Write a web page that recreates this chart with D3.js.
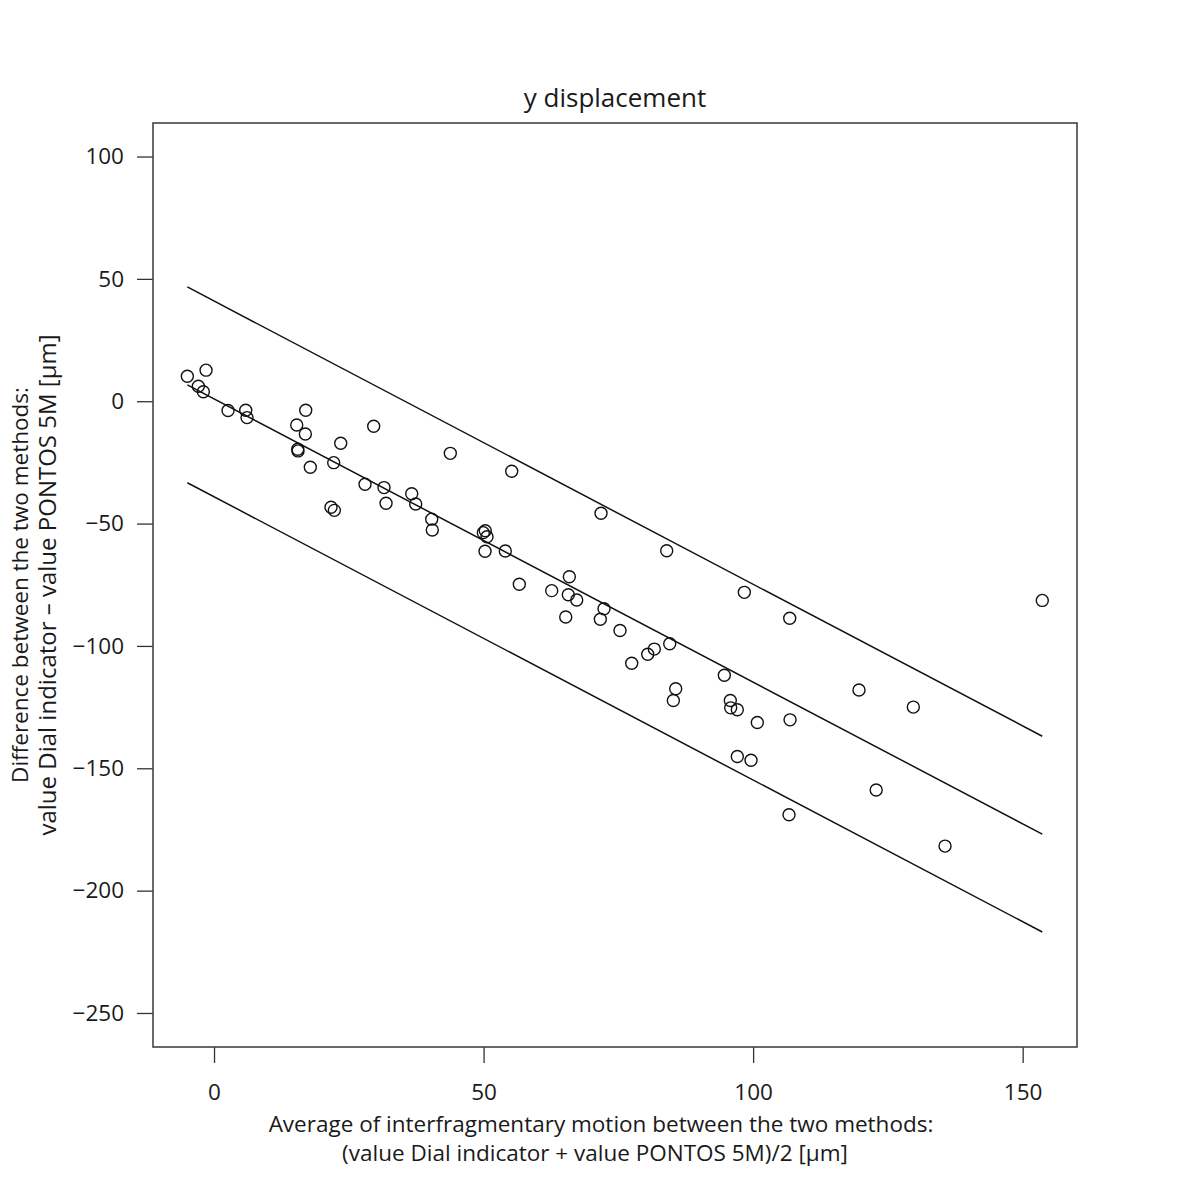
<!DOCTYPE html>
<html>
<head>
<meta charset="utf-8">
<script src="https://cdn.jsdelivr.net/npm/d3@7"></script>
<style>
  body { margin: 0; background: #fff; }
  text { font-family: "Open Sans", sans-serif; fill: #1a1a1a; }
</style>
</head>
<body>
<script>
// Bland-Altman style plot, y displacement

// mean of the two methods (x)
var avgVals = [-4.95, -1.48, -2.91, -1.98, 2.60, 5.88, 6.12, 15.34, 17.01, 16.94,
  15.53, 15.58, 17.86, 23.50, 29.62, 22.20, 28.01, 31.53, 31.91, 21.70,
  22.32, 36.67, 37.41, 40.38, 40.49, 43.83, 55.22, 49.95, 50.32, 50.64,
  50.27, 54.03, 56.63, 62.64, 65.91, 65.72, 67.28, 65.24, 71.79, 72.34,
  71.66, 75.31, 77.48, 83.97, 80.45, 81.67, 84.53, 85.64, 85.20, 94.66,
  98.37, 95.77, 95.84, 97.07, 100.78, 97.07, 99.61, 106.79, 106.85, 106.66,
  119.64, 122.83, 129.72, 135.60, 153.64];

// difference between the two methods (y)
var diffVals = [10.2, 12.7, 6.1, 3.9, -3.8, -3.7, -6.7, -9.7, -3.7, -13.4,
  -19.6, -20.3, -27.0, -17.2, -10.2, -25.1, -33.9, -35.3, -41.7, -43.3,
  -44.6, -37.8, -42.0, -48.2, -52.6, -21.3, -28.6, -53.7, -52.9, -55.4,
  -61.3, -61.2, -74.8, -77.4, -71.7, -79.1, -81.2, -88.2, -45.8, -84.8,
  -89.1, -93.7, -107.1, -61.1, -103.4, -101.3, -99.1, -117.5, -122.3, -112.0,
  -78.1, -122.3, -125.3, -126.1, -131.3, -145.2, -146.7, -88.7, -130.2, -169.0,
  -118.0, -158.9, -125.0, -181.8, -81.4];

// regression line and limits of agreement (endpoints)
var lineX = [-4.95, 153.64];
var meanLine = [6.7, -176.9];
var upperLine = [46.7, -136.9];
var lowerLine = [-33.3, -216.9];

var xTicks = [0, 50, 100, 150];
var yTicks = [100, 50, 0, -50, -100, -150, -200, -250];

var titleText = "y displacement";
var xLabel = ["Average of interfragmentary motion between the two methods:",
              "(value Dial indicator + value PONTOS 5M)/2 [\u00b5m]"];
var yLabel = ["Difference between the two methods:",
              "value Dial indicator \u2013 value PONTOS 5M [\u00b5m]"];

var margin = {left: 153, top: 123, right: 123, bottom: 153};
var width = 1200 - margin.left - margin.right,
    height = 1200 - margin.top - margin.bottom;

var svg = d3.select("body").append("svg")
    .attr("width", 1200)
    .attr("height", 1200);

var g = svg.append("g")
    .attr("transform", "translate(" + margin.left + "," + margin.top + ")");

var x = d3.scaleLinear().domain([-11.32, 160.08]).range([0, width]);
var y = d3.scaleLinear().domain([-263.9, 113.7]).range([height, 0]);

// axes
var xAxis = g.append("g")
    .attr("transform", "translate(0," + height + ")")
    .call(d3.axisBottom(x).tickValues(xTicks).tickSize(16).tickPadding(21).tickFormat(d3.format("d")));
var yAxis = g.append("g")
    .call(d3.axisLeft(y).tickValues(yTicks).tickSize(16).tickPadding(13)
      .tickFormat(function(d) { return d < 0 ? "\u2212" + Math.abs(d) : d; }));

[xAxis, yAxis].forEach(function(a) {
  a.select(".domain").remove();
  a.selectAll(".tick line").attr("stroke", "#333").attr("stroke-width", 1.3);
  a.selectAll(".tick text")
    .attr("font-size", 22.5)
    .attr("font-family", "'Open Sans', sans-serif")
    .attr("fill", "#1a1a1a");
});

// lines
var lineGen = d3.line()
    .x(function(d) { return x(d[0]); })
    .y(function(d) { return y(d[1]); });

[upperLine, meanLine, lowerLine].forEach(function(l) {
  g.append("path")
    .datum(lineX.map(function(v, i) { return [v, l[i]]; }))
    .attr("d", lineGen)
    .attr("fill", "none")
    .attr("stroke", "#111")
    .attr("stroke-width", 1.5);
});

// points
g.selectAll("circle.pt")
  .data(avgVals.map(function(v, i) { return [v, diffVals[i]]; }))
  .enter().append("circle")
    .attr("class", "pt")
    .attr("cx", function(d) { return x(d[0]); })
    .attr("cy", function(d) { return y(d[1]); })
    .attr("r", 6)
    .attr("fill", "none")
    .attr("stroke", "#111")
    .attr("stroke-width", 1.4);

// box
g.append("rect")
  .attr("width", width)
  .attr("height", height)
  .attr("fill", "none")
  .attr("stroke", "#444")
  .attr("stroke-width", 1.6);

// title
svg.append("text")
  .attr("x", margin.left + width / 2)
  .attr("y", 107)
  .attr("text-anchor", "middle")
  .attr("font-size", 26)
  .text(titleText);

// x label (sits a bit left of the plot centre in the original)
xLabel.forEach(function(t, i) {
  svg.append("text")
    .attr("x", margin.left + width / 2 - 14 - i * 6)
    .attr("y", 1132 + i * 29)
    .attr("text-anchor", "middle")
    .attr("font-size", 22.5)
    .text(t);
});

// y label
var ySizes = [22.5, 24];
yLabel.forEach(function(t, i) {
  svg.append("text")
    .attr("transform", "translate(" + (28 + i * 28) + "," + (margin.top + height / 2) + ") rotate(-90)")
    .attr("text-anchor", "middle")
    .attr("font-size", ySizes[i])
    .text(t);
});
</script>
</body>
</html>
